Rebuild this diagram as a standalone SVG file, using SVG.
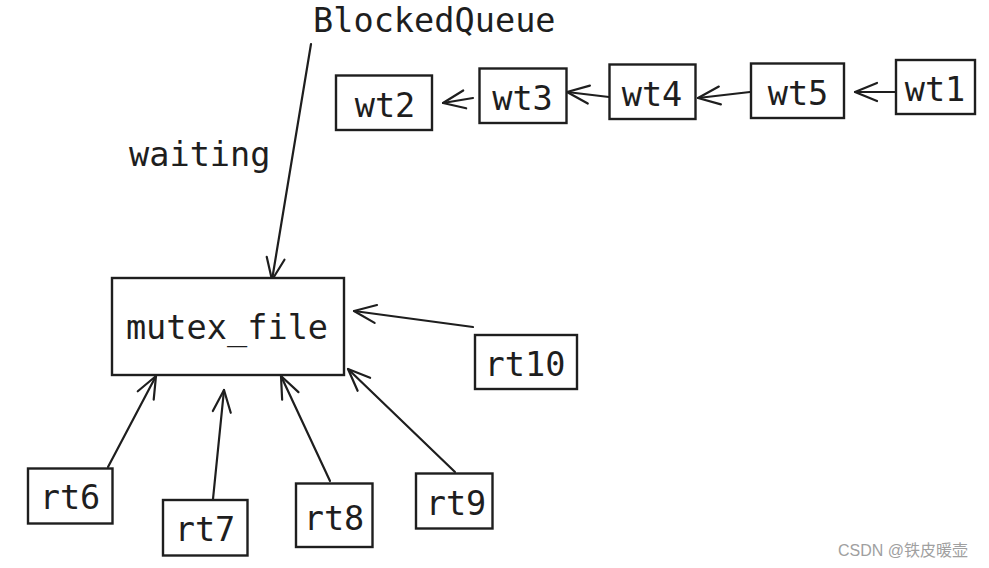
<svg xmlns="http://www.w3.org/2000/svg" width="989" height="568" viewBox="0 0 989 568">
<style>
.box{fill:#fff;stroke:#1e1e1e;stroke-width:2.4}
.lbl{font-family:"DejaVu Sans Mono","Liberation Mono",monospace;font-size:33.6px;fill:#1e1e1e}
.c{text-anchor:middle}
.edge{stroke:#1e1e1e;stroke-width:2.2;fill:none;stroke-linecap:round}
.wm{font-family:"Liberation Sans","Noto Sans CJK SC",sans-serif;font-size:16px;fill:#a0a0a0}
</style>
<defs>
<marker id="ah" markerUnits="userSpaceOnUse" markerWidth="30" markerHeight="30" viewBox="-25 -15 30 30" refX="0" refY="0" orient="auto">
<path d="M-22,-9 L0,0 L-22,9" fill="none" stroke="#1e1e1e" stroke-width="2.2" stroke-linecap="round" stroke-linejoin="round"/>
</marker>
</defs>
<rect width="989" height="568" fill="#fff"/>
<text class="lbl" x="313" y="32">BlockedQueue</text>
<text class="lbl" x="129" y="166">waiting</text>
<g id="connectors">
<line class="edge" x1="311" y1="44" x2="272" y2="280" marker-end="url(#ah)"/>
<line class="edge" x1="473" y1="98" x2="443" y2="103" marker-end="url(#ah)"/>
<line class="edge" x1="609" y1="97" x2="567" y2="92" marker-end="url(#ah)"/>
<line class="edge" x1="750" y1="92" x2="698" y2="98" marker-end="url(#ah)"/>
<line class="edge" x1="895" y1="92" x2="855" y2="92" marker-end="url(#ah)"/>
<line class="edge" x1="473" y1="327" x2="354" y2="311" marker-end="url(#ah)"/>
<line class="edge" x1="108" y1="467" x2="156" y2="376" marker-end="url(#ah)"/>
<line class="edge" x1="213" y1="499" x2="224" y2="390" marker-end="url(#ah)"/>
<line class="edge" x1="330" y1="481" x2="281" y2="376" marker-end="url(#ah)"/>
<line class="edge" x1="455" y1="472" x2="348" y2="369" marker-end="url(#ah)"/>
</g>
<g id="wt2"><rect class="box" x="336" y="75.5" width="96" height="54.5"/><text class="lbl c" x="385" y="117">wt2</text></g>
<g id="wt3"><rect class="box" x="479.5" y="68.5" width="87" height="54.5"/><text class="lbl c" x="522.5" y="110">wt3</text></g>
<g id="wt4"><rect class="box" x="609.5" y="64.5" width="86" height="54.5"/><text class="lbl c" x="652" y="106">wt4</text></g>
<g id="wt5"><rect class="box" x="751" y="63.5" width="93" height="54.5"/><text class="lbl c" x="798" y="105">wt5</text></g>
<g id="wt1"><rect class="box" x="896" y="60" width="79" height="54"/><text class="lbl c" x="935" y="101">wt1</text></g>
<g id="mutex_file"><rect class="box" x="112" y="278" width="232" height="97"/><text class="lbl c" x="227" y="339">mutex_file</text></g>
<g id="rt10"><rect class="box" x="475" y="335" width="102" height="54"/><text class="lbl c" x="525" y="376">rt10</text></g>
<g id="rt6"><rect class="box" x="28" y="468.5" width="84.5" height="55"/><text class="lbl c" x="70" y="509">rt6</text></g>
<g id="rt7"><rect class="box" x="163" y="500" width="84.5" height="55.5"/><text class="lbl c" x="205" y="541">rt7</text></g>
<g id="rt8"><rect class="box" x="296" y="483.5" width="76.5" height="63.5"/><text class="lbl c" x="334" y="530">rt8</text></g>
<g id="rt9"><rect class="box" x="416" y="473.5" width="76.5" height="55"/><text class="lbl c" x="456" y="515">rt9</text></g>
<text class="wm" x="838" y="556">CSDN @铁皮暖壶</text>
</svg>
